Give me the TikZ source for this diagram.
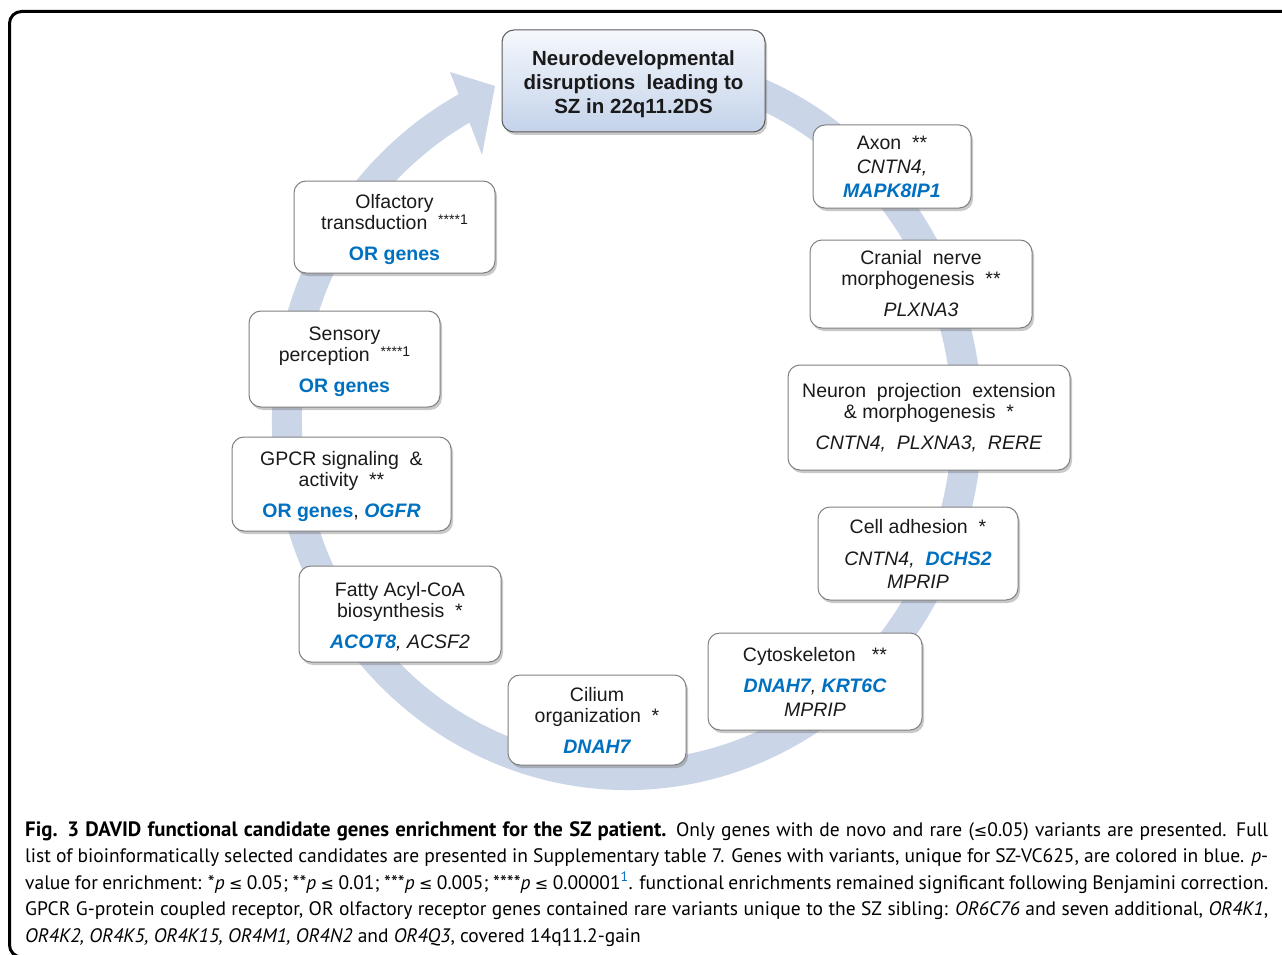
\documentclass[tikz,border=0pt]{standalone}
\usepackage{fontspec}
\usetikzlibrary{shadows}
\newfontfamily\arial{Liberation Sans}
\newfontfamily\capfont{PT Sans}
\newfontfamily\dejavu{DejaVu Sans}
\definecolor{band}{RGB}{203,213,232}
\definecolor{genblue}{RGB}{0,112,192}
\definecolor{boxline}{RGB}{128,128,128}
\definecolor{txt}{RGB}{26,26,26}
\definecolor{topA}{RGB}{245,248,253}
\definecolor{topB}{RGB}{196,211,234}
\newcommand{\gb}[1]{\textcolor{genblue}{\bfseries\itshape #1}}
\newcommand{\gbn}[1]{\textcolor{genblue}{\bfseries #1}}
\newcommand{\gi}[1]{\textit{#1}}
\newcommand{\stars}[1]{\raisebox{5pt}{\fontsize{14}{14}\selectfont #1}}
\newcommand{\myle}{{\dejavu\fontsize{16}{16}\selectfont ≤}}
\newcommand{\upstrut}{\rule{0pt}{20pt}}
\tikzset{
  catbox/.style={draw=boxline, line width=1pt, fill=white, rounded corners=12pt,
    inner sep=0pt, align=center, text=txt,
    font=\arial\fontsize{19.5}{21}\selectfont,
    drop shadow={shadow xshift=2pt, shadow yshift=-3pt, opacity=0.35, fill=black!60}},
  topbox/.style={catbox, draw=black!65, top color=topA, bottom color=topB,
    font=\arial\bfseries\fontsize{20.5}{24}\selectfont},
  bandline/.style={draw=band, line width=30pt},
  frameline/.style={draw=black, line width=3pt, rounded corners=12pt},
}
\begin{document}
\begin{tikzpicture}[x=1pt,y=1pt]
\useasboundingbox (0,0) rectangle (1282,-955);
\clip (0,0) rectangle (1282,-955);
\fill[white] (0,0) rectangle (1282,-955);
% frame
\draw[frameline] (9.5,-11.5) rectangle (1300,-957);
% circular band arrow
\coordinate (as) at (743.3,-86.4);
\draw[bandline] (as) arc[start angle=70, end angle=-244, x radius=340pt, y radius=355pt];
\coordinate (hw1) at (450,-72);
\coordinate (htip) at (495,-86);
\coordinate (hw2) at (482,-155);
\fill[band] (hw1) -- (htip) -- (hw2) -- cycle;
% boxes
\node[topbox, minimum width=263pt, minimum height=102pt] (top) at (633.5,-81)
  {\rule{0pt}{22pt}Neurodevelopmental\\disruptions~~leading to\\SZ in 22q11.2DS};
\node[catbox, minimum width=158pt, minimum height=83pt] (axon) at (892,-166.5)
  {Axon~~**\\[3pt]\gi{CNTN4,}\\[3pt]\gb{MAPK8IP1}};
\node[catbox, minimum width=222pt, minimum height=88pt] (cranial) at (921,-284)
  {Cranial~~nerve\\morphogenesis~~**\\[10pt]\gi{PLXNA3}};
\node[catbox, minimum width=282pt, minimum height=105pt] (neuron) at (929,-417.5)
  {Neuron~~projection~~extension\\\&~morphogenesis~~*\\[10pt]\gi{CNTN4,~~PLXNA3,~~RERE}};
\node[catbox, minimum width=200pt, minimum height=93pt] (cell) at (918,-553.5)
  {Cell adhesion~~*\\[11pt]\gi{CNTN4,}~~\gb{DCHS2}\\[2pt]\gi{MPRIP}};
\node[catbox, minimum width=214pt, minimum height=97pt] (cyto) at (815,-681.5)
  {Cytoskeleton~~~**\\[10pt]\gb{DNAH7}\gi{,} \gb{KRT6C}\\[3pt]\gi{MPRIP}};
\node[catbox, minimum width=178pt, minimum height=90pt] (cilium) at (597,-720)
  {Cilium\\organization~~*\\[10pt]\gb{DNAH7}};
\node[catbox, minimum width=202pt, minimum height=96pt] (fatty) at (400,-614)
  {\upstrut Fatty Acyl-CoA\\biosynthesis~~*\\[10pt]\gb{ACOT8}\gi{, ACSF2}};
\node[catbox, minimum width=219pt, minimum height=94pt] (gpcr) at (341.5,-484)
  {\upstrut GPCR signaling~~\&\\activity~~**\\[10pt]\gbn{OR genes}, \gb{OGFR}};
\node[catbox, minimum width=191pt, minimum height=96pt] (sensory) at (344.5,-359)
  {\upstrut Sensory\\perception~~\stars{****1}\\[10pt]\gbn{OR genes}};
\node[catbox, minimum width=201pt, minimum height=92pt] (olf) at (394.5,-227)
  {\upstrut Olfactory\\transduction~~\stars{****1}\\[10pt]\gbn{OR genes}};
% caption
\node[anchor=north west, inner sep=0pt, text width=1243pt, align=justify,
  font=\capfont\fontsize{19.5}{26.5}\selectfont, text=black] (cap) at (25,-821)
  {{\fontsize{20.8}{26.5}\selectfont\textbf{Fig. 3 DAVID functional candidate genes enrichment for the SZ patient.}} Only genes with de novo and rare (\myle 0.05) variants are presented. Full\linebreak
  list of bioinformatically selected candidates are presented in Supplementary table 7. Genes with variants, unique for SZ-VC625, are colored in blue. \textit{p}-\linebreak
  value for enrichment: *\textit{p} \myle\ 0.05; **\textit{p} \myle\ 0.01; ***\textit{p} \myle\ 0.005; ****\textit{p} \myle\ 0.00001\textsuperscript{\textcolor{genblue}{1}}. functional enrichments remained significant following Benjamini correction.\linebreak
  GPCR G-protein coupled receptor, OR olfactory receptor genes contained rare variants unique to the SZ sibling: \textit{OR6C76} and seven additional, \textit{OR4K1},\linebreak
  \textit{OR4K2, OR4K5, OR4K15, OR4M1, OR4N2} and \textit{OR4Q3}, covered 14q11.2-gain\par};
\end{tikzpicture}
\end{document}
